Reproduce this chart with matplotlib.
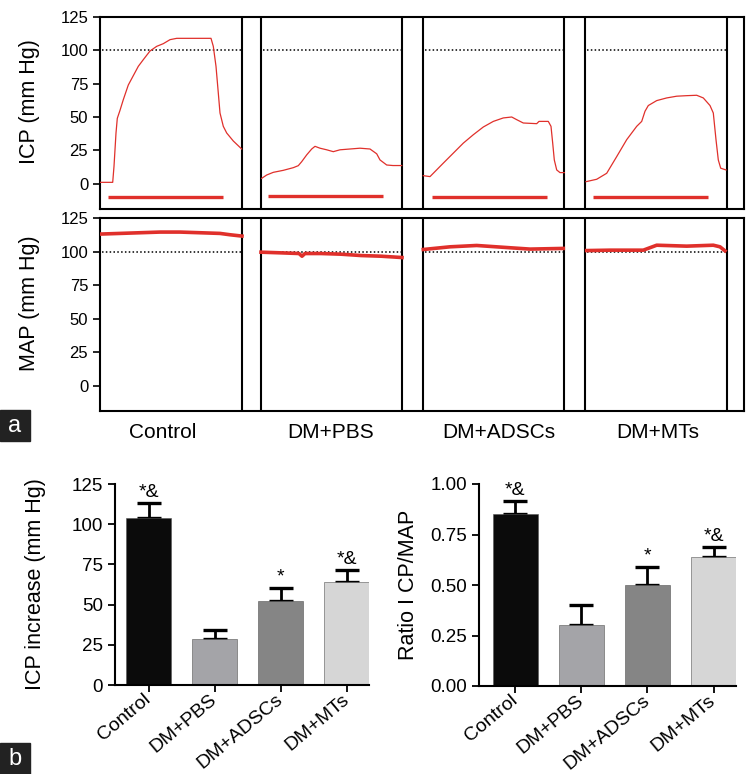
import matplotlib
matplotlib.use("Agg")
import matplotlib.pyplot as plt
from matplotlib.patches import Rectangle

plt.rcParams['font.family'] = ['Liberation Sans', 'DejaVu Sans']

# ---------------------------------------------------------------
# (a) recordings, time in s within each group's window
# ---------------------------------------------------------------
groups = ["Control", "DM+PBS", "DM+ADSCs", "DM+MTs"]

icp_ctrl_t = [0, 12.7, 14, 16, 17.3, 20, 23.3, 28.3, 33.3, 38.3, 43.3, 50, 56.7, 63.3, 70,
              76.7, 86.7, 100, 111, 113.3, 116, 118.3, 120, 123.3, 126.7, 133.3, 141.7]
icp_ctrl_v = [1, 1, 13, 38, 49, 55, 63, 74, 81, 88, 93, 99.5, 103, 105, 108,
              109, 109, 109, 109, 103, 88, 68, 53, 43, 38, 32, 26]

icp_pbs_t = [0.7, 5.7, 12.3, 22.3, 32.3, 37.3, 40.7, 45.7, 50.7, 54, 59, 65.7, 72.3, 79,
             89, 99, 109, 115.7, 119, 125.7, 132, 140.7]
icp_pbs_v = [4, 6.5, 8.5, 10, 12, 13.5, 16.5, 21.6, 26, 28, 26.6, 25.4, 24, 25.4,
             26, 26.6, 26, 22.4, 17.8, 14, 13.6, 13.6]

icp_adsc_t = [0.3, 7, 10.3, 20.3, 30.3, 40.3, 50.3, 60.3, 70.3, 80.3, 88.7, 93.7, 100.3,
              113.7, 116, 125.3, 128, 129.7, 131.3, 133.7, 137, 141.3]
icp_adsc_v = [6, 5.3, 7.8, 15.4, 22.9, 30.4, 36.7, 42.5, 46.7, 49.3, 50, 48, 45.5,
              45, 46.7, 46.7, 43, 30.4, 17.8, 10.3, 8.3, 8.3]

icp_mt_t = [1, 11.7, 21.7, 31.7, 41.7, 51.7, 56.7, 60, 63.3, 71.7, 81.7, 91.7, 101.7,
            111.7, 118.3, 125, 128.3, 131, 133.3, 135.7, 141]
icp_mt_v = [1.5, 3.3, 7.8, 20.3, 33, 43, 46.7, 54.3, 58.6, 62.3, 64.3, 65.6, 66,
            66.3, 64.3, 58.6, 53, 33, 17.8, 11.6, 10.3]

map_ctrl_t = [0, 20, 40, 60, 80, 100, 120, 130, 142]
map_ctrl_v = [113, 113.5, 114, 114.5, 114.5, 114, 113.5, 112.5, 111.5]

map_pbs_t = [0, 20, 38, 41, 44, 60, 80, 100, 120, 141]
map_pbs_v = [99.5, 99, 98.5, 96.5, 98.5, 98.5, 98, 97, 96.5, 95.5]

map_adsc_t = [0.3, 27, 53.7, 87, 107, 140.3]
map_adsc_v = [101.5, 103.5, 104.5, 102.8, 101.8, 102.3]

map_mt_t = [1.7, 25, 58.3, 71.7, 101.7, 128.3, 135, 140]
map_mt_v = [100.7, 101, 101, 104.7, 104, 104.7, 103.5, 100.5]

# stimulation period (start, end) per group
stim_on = [8.3, 7.3, 9.3, 8.3]
stim_off = [122.7, 122.3, 124, 122.7]
stim_level = [-10.3, -9.5, -10.3, -10]

# ---------------------------------------------------------------
# (b) summary bars
# ---------------------------------------------------------------
icp_mean = [104, 28.6, 52.2, 64]
icp_sem = [9, 5.4, 8.1, 7.5]
icp_marks = ["*&", "", "*", "*&"]

ratio_mean = [0.851, 0.302, 0.50, 0.639]
ratio_sem = [0.065, 0.098, 0.089, 0.049]
ratio_marks = ["*&", "", "*", "*&"]

bar_colors = ["#0b0b0b", "#a4a4a8", "#858585", "#d6d6d6"]

red = "#e0302b"
seg_start = [0, 161, 323, 485]
seg_end = [142, 302, 464, 627]

fig = plt.figure(figsize=(7.49, 7.74), dpi=100)
W, H = 749, 774


def box(l, t, r, b):
    return [l / W, 1 - b / H, (r - l) / W, (b - t) / H]


def trace_panel(ax, traces, lw, ylabel):
    for i, (t, v) in enumerate(traces):
        ax.plot([x + seg_start[i] for x in t], v, color=red, lw=lw, zorder=3)
        ax.plot([seg_start[i] + 2, seg_end[i] - 1], [100, 100], color='black',
                lw=1.1, ls=(0, (1, 1.5)), zorder=2)
    for x in seg_end + seg_start[1:]:
        ax.axvline(x, color='black', lw=1.5)
    ax.set_xlim(0, 644)
    ax.set_ylim(-19, 125)
    ax.set_yticks([0, 25, 50, 75, 100, 125])
    ax.set_xticks([])
    for s in ax.spines.values():
        s.set_linewidth(1.5)
    ax.tick_params(axis='y', labelsize=12, width=1.2, length=5)
    ax.set_ylabel(ylabel, fontsize=15.5)
    ax.yaxis.set_label_coords(-0.093, 0.56)


ax1 = fig.add_axes(box(100, 17, 744, 209))
trace_panel(ax1, [(icp_ctrl_t, icp_ctrl_v), (icp_pbs_t, icp_pbs_v),
                  (icp_adsc_t, icp_adsc_v), (icp_mt_t, icp_mt_v)], 0.9, "ICP (mm Hg)")
for i in range(4):
    ax1.plot([seg_start[i] + stim_on[i], seg_start[i] + stim_off[i]],
             [stim_level[i]] * 2, color=red, lw=2.4, solid_capstyle='butt')

ax2 = fig.add_axes(box(100, 218, 744, 411))
trace_panel(ax2, [(map_ctrl_t, map_ctrl_v), (map_pbs_t, map_pbs_v),
                  (map_adsc_t, map_adsc_v), (map_mt_t, map_mt_v)], 2.6, "MAP (mm Hg)")

label_x = [63, 231, 399, 558]
for g, lx in zip(groups, label_x):
    fig.text((100 + lx) / W, 1 - 433 / H, g, fontsize=15, ha='center', va='center')


def bar_panel(ax, means, sems, marks, ylim, ticks, ticklabels, ylabel, xleft, lab_x):
    x = range(len(groups))
    ax.bar(x, means, width=0.68, color=bar_colors, edgecolor='#555555', linewidth=0.4, zorder=2)
    ax.errorbar(x, means, yerr=[[0] * 4, sems], fmt='none', ecolor='black',
                elinewidth=2, capsize=8.3, capthick=2.4, zorder=1)
    for xi, m, s, mk in zip(x, means, sems, marks):
        if mk:
            ax.annotate(mk, (xi, m + s), xytext=(0, 1.5), textcoords='offset points',
                        ha='center', va='bottom', fontsize=14)
    ax.set_xlim(xleft, 3.34)
    ax.set_ylim(*ylim)
    ax.set_yticks(ticks)
    ax.set_yticklabels(ticklabels)
    ax.set_xticks(list(x))
    ax.set_xticklabels(groups, rotation=40, ha='right', va='center', rotation_mode='anchor')
    ax.spines['top'].set_visible(False)
    ax.spines['right'].set_visible(False)
    ax.spines['left'].set_linewidth(1.5)
    ax.spines['bottom'].set_linewidth(1.5)
    ax.tick_params(axis='y', labelsize=13.5, width=1.3, length=5)
    ax.tick_params(axis='x', labelsize=14, width=1.3, length=5, pad=4)
    ax.set_ylabel(ylabel, fontsize=15.5)
    ax.yaxis.set_label_coords(lab_x, 0.5)


ax3 = fig.add_axes(box(115, 484, 369, 685))
bar_panel(ax3, icp_mean, icp_sem, icp_marks, (0, 125), [0, 25, 50, 75, 100, 125],
          ["0", "25", "50", "75", "100", "125"], "ICP increase (mm Hg)", -0.508, -0.27)

ax4 = fig.add_axes(box(479, 484, 736, 686))
bar_panel(ax4, ratio_mean, ratio_sem, ratio_marks, (0, 1.0), [0, 0.25, 0.5, 0.75, 1.0],
          ["0.00", "0.25", "0.50", "0.75", "1.00"], "Ratio I CP/MAP", -0.55, -0.235)

# panel letters
for letter, top in [("a", 410), ("b", 743)]:
    fig.patches.append(Rectangle((0, 1 - (top + 31) / H), 30 / W, 31 / H,
                                 transform=fig.transFigure, color='#222222'))
    fig.text(15 / W, 1 - (top + 16) / H, letter, color='white', fontsize=17,
             ha='center', va='center')

fig.savefig("out.png", dpi=100)
